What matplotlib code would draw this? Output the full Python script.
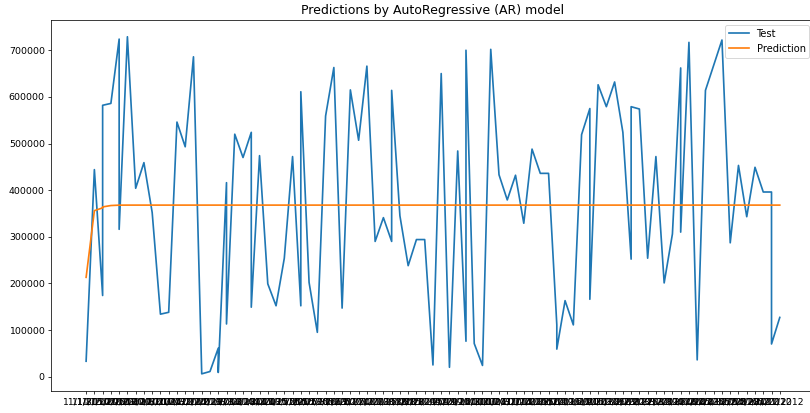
import matplotlib
matplotlib.use('Agg')
from matplotlib import pyplot as plt

# one date per test point, repeated dates share one x position
dates = ['11/1/2010', '11/8/2010', '11/15/2010', '11/15/2010', '11/22/2010',
         '11/29/2010', '11/29/2010', '12/6/2010', '12/13/2010', '12/20/2010',
         '12/27/2010', '1/3/2011', '1/10/2011', '1/17/2011', '1/24/2011',
         '1/31/2011', '2/7/2011', '2/14/2011', '2/21/2011', '2/21/2011',
         '2/28/2011', '2/28/2011', '3/7/2011', '3/14/2011', '3/21/2011',
         '3/21/2011', '3/28/2011', '4/4/2011', '4/11/2011', '4/18/2011',
         '4/25/2011', '5/2/2011', '5/2/2011', '5/9/2011', '5/16/2011',
         '5/23/2011', '5/30/2011', '6/6/2011', '6/13/2011', '6/20/2011',
         '6/27/2011', '7/4/2011', '7/11/2011', '7/18/2011', '7/18/2011',
         '7/25/2011', '8/1/2011', '8/8/2011', '8/15/2011', '8/22/2011',
         '8/29/2011', '9/5/2011', '9/12/2011', '9/19/2011', '9/19/2011',
         '9/26/2011', '10/3/2011', '10/10/2011', '10/17/2011', '10/24/2011',
         '10/31/2011', '11/7/2011', '11/14/2011', '11/21/2011', '11/28/2011',
         '12/5/2011', '12/5/2011', '12/12/2011', '12/19/2011', '12/26/2011',
         '1/2/2012', '1/2/2012', '1/9/2012', '1/16/2012', '1/23/2012',
         '1/30/2012', '2/6/2012', '2/6/2012', '2/13/2012', '2/20/2012',
         '2/27/2012', '3/5/2012', '3/12/2012', '3/19/2012', '3/19/2012',
         '3/26/2012', '4/2/2012', '4/9/2012', '4/16/2012', '4/23/2012',
         '4/30/2012', '5/7/2012', '5/14/2012', '5/21/2012', '5/28/2012',
         '6/4/2012', '6/4/2012', '6/11/2012']

test = [33000, 444000, 174000, 582000, 586000,
        724000, 316000, 729000, 404000, 459000,
        352000, 134000, 138000, 546000, 493000,
        686000, 6000, 11000, 61000, 9000,
        416000, 113000, 520000, 470000, 524000,
        149000, 474000, 199000, 152000, 254000,
        472000, 152000, 611000, 202000, 95000,
        559000, 663000, 147000, 615000, 507000,
        666000, 290000, 341000, 290000, 614000,
        345000, 238000, 294000, 294000, 25000,
        650000, 20000, 484000, 76000, 700000,
        71000, 24000, 702000, 433000, 379000,
        432000, 329000, 488000, 436000, 436000,
        111000, 59000, 163000, 111000, 519000,
        575000, 166000, 626000, 579000, 632000,
        524000, 252000, 579000, 574000, 254000,
        472000, 201000, 306000, 662000, 310000,
        717000, 36000, 614000, 668000, 722000,
        287000, 453000, 343000, 449000, 396000,
        396000, 70000, 127000]

pred = [213000, 356000, 362000, 364000, 367000,
        367800, 367800, 367900, 367900, 367900,
        367900, 367900, 367900, 367900, 367900,
        367900, 367900, 367900, 367900, 367900,
        367900, 367900, 367900, 367900, 367900,
        367900, 367900, 367900, 367900, 367900,
        367900, 367900, 367900, 367900, 367900,
        367900, 367900, 367900, 367900, 367900,
        367900, 367900, 367900, 367900, 367900,
        367900, 367900, 367900, 367900, 367900,
        367900, 367900, 367900, 367900, 367900,
        367900, 367900, 367900, 367900, 367900,
        367900, 367900, 367900, 367900, 367900,
        367900, 367900, 367900, 367900, 367900,
        367900, 367900, 367900, 367900, 367900,
        367900, 367900, 367900, 367900, 367900,
        367900, 367900, 367900, 367900, 367900,
        367900, 367900, 367900, 367900, 367900,
        367900, 367900, 367900, 367900, 367900,
        367900, 367900, 367900]

fig = plt.figure(figsize=(12, 6.12), dpi=67.5)
ax = fig.add_axes([0.0635, 0.054, 0.942, 0.8976])

ax.plot(dates, test, linewidth=1.8, label='Test')
ax.plot(dates, pred, linewidth=1.8, label='Prediction')

ax.set_title('Predictions by AutoRegressive (AR) model', fontsize=13.4)
ax.legend(loc='upper right', fontsize=10.6)

fig.savefig('out.png', dpi=67.5)
